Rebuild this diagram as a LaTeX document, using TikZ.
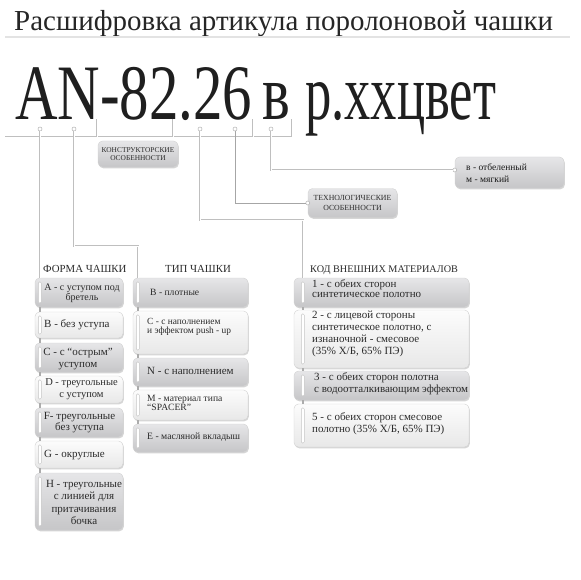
\documentclass[tikz,border=0pt]{standalone}
\usepackage{fontspec}
\setmainfont{Liberation Serif}
\usepackage{graphicx}
\usetikzlibrary{shadows,calc}
\definecolor{txt}{HTML}{2B2B2B}
\definecolor{darkA}{HTML}{E6E6E8}
\definecolor{darkB}{HTML}{C6C6C8}
\definecolor{liteA}{HTML}{FCFCFC}
\definecolor{liteB}{HTML}{E8E8E8}
\tikzset{
  box/.style={rectangle, rounded corners=4.5pt, draw=gray!35, line width=0.4pt, inner sep=0pt,
    drop shadow={shadow xshift=0.8pt, shadow yshift=-1.3pt, opacity=0.45, fill=gray!70}},
  darkbox/.style={box, top color=darkA, bottom color=darkB},
  litebox/.style={box, top color=liteA, bottom color=liteB},
  lbl/.style={inner sep=0pt, text=txt},
  fsz/.style 2 args={font=\fontsize{#1}{#2}\selectfont},
  conn/.style={draw=gray!50, double=white, double distance=0.9pt, line width=0.55pt},
  connd/.style={draw=gray!70, line width=0.8pt},
  ring/.style={circle, draw=gray!60, fill=white, line width=0.5pt, inner sep=0pt, minimum size=4pt},
  capsule/.style={draw=gray!45, fill=white, line width=0.4pt, rounded corners=1.4pt},
  link/.style={draw=gray!65, line width=1.6pt},
}
\begin{document}
\begin{tikzpicture}[x=1pt,y=-1pt]
\useasboundingbox (0,0) rectangle (580,580);
\fill[white] (0,0) rectangle (580,580);

% title
\node[lbl, anchor=base west, text=black!85] (title) at (14,31)
  {\resizebox{539pt}{!}{\fontsize{30}{30}\selectfont Расшифровка артикула поролоновой чашки}};
\draw[gray!22, line width=2pt] (5,37.5) -- (570,37.5);

% big code
\node[lbl, anchor=base west, text=black!88] (code) at (15,120)
  {\fontsize{78.5}{78.5}\selectfont\scalebox{0.75}[1]{AN-82.26}};
\node[lbl, anchor=base west, text=black!88] (codeb) at (262,120)
  {\fontsize{78.5}{78.5}\selectfont\scalebox{0.75}[1]{в}};
\node[lbl, anchor=base west, text=black!88] (codec) at (305,120)
  {\fontsize{78.5}{78.5}\selectfont\scalebox{0.67}[1]{р.ххцвет}};

% brackets under the code
\draw[conn] (5,137) -- (292,137);
\foreach \x in {97,173,253,292} \draw[conn] (\x,137) -- (\x,119);

% rings
\node[ring] (c1) at (40,129) {};
\node[ring] (c2) at (74,129) {};
\node[ring] (c3) at (200,129) {};
\node[ring] (c4) at (235,129) {};
\node[ring] (c5) at (271,129) {};

% upper boxes
\node[darkbox, minimum width=80pt, minimum height=26pt] (konstr) at (138,154) {};
\node[lbl, fsz={7.4}{8}, align=center] (konstrt) at (konstr.center) {КОНСТРУКТОРСКИЕ\\ОСОБЕННОСТИ};
\node[darkbox, minimum width=89pt, minimum height=29pt] (tech) at (352.5,203) {};
\node[lbl, fsz={7.8}{9.5}, align=center] (techt) at (tech.center) {ТЕХНОЛОГИЧЕСКИЕ\\ОСОБЕННОСТИ};
\node[darkbox, minimum width=109pt, minimum height=31pt] (soft) at (509.5,172.5) {};
\node[lbl, fsz={9.5}{12}, align=left, anchor=west, text=black!90] (softt) at (466,173) {в - отбеленный\\м - мягкий};

% headers
\node[lbl, fsz={10.8}{11}, anchor=west] (hform) at (43,269) {ФОРМА ЧАШКИ};
\node[lbl, fsz={10.8}{11}, anchor=west] (htype) at (165,269) {ТИП ЧАШКИ};
\node[lbl, fsz={10.2}{11}, anchor=west] (hcode) at (310,270) {КОД ВНЕШНИХ МАТЕРИАЛОВ};

% form column
\node[darkbox, minimum width=88pt, minimum height=29pt] (fA) at (79,292.5) {};
\node[litebox, minimum width=88pt, minimum height=26pt] (fB) at (79,325) {};
\node[darkbox, minimum width=88pt, minimum height=29pt] (fC) at (79,357.5) {};
\node[litebox, minimum width=88pt, minimum height=27pt] (fD) at (79,389.5) {};
\node[darkbox, minimum width=88pt, minimum height=29pt] (fF) at (79,422.5) {};
\node[litebox, minimum width=88pt, minimum height=27pt] (fG) at (79,454.5) {};
\node[darkbox, minimum width=88pt, minimum height=57pt] (fH) at (79,501.5) {};

% type column
\node[darkbox, minimum width=115pt, minimum height=29pt] (tB) at (190.5,292.5) {};
\node[litebox, minimum width=115pt, minimum height=43pt] (tC) at (190.5,332.5) {};
\node[darkbox, minimum width=115pt, minimum height=28pt] (tN) at (190.5,372) {};
\node[litebox, minimum width=115pt, minimum height=30pt] (tM) at (190.5,405) {};
\node[darkbox, minimum width=115pt, minimum height=28pt] (tE) at (190.5,438) {};

% code column
\node[darkbox, minimum width=175pt, minimum height=29pt] (k1) at (381.5,292.5) {};
\node[litebox, minimum width=175pt, minimum height=58pt] (k2) at (381.5,339) {};
\node[darkbox, minimum width=175pt, minimum height=29pt] (k3) at (381.5,385.5) {};
\node[litebox, minimum width=175pt, minimum height=43pt] (k5) at (381.5,425.5) {};

% capsules
\foreach \b/\o in {fA/5,fB/5,fC/5,fD/5,fF/5,fG/5,fH/5,tB/5,tC/5,tN/5,tM/5,tE/5,k1/9,k2/9,k3/9,k5/9}
  \draw[capsule] ($(\b.north west)+(\o-1.5,4)$) rectangle ($(\b.south west)+(\o+1.5,-4)$);
% links
\foreach \a/\b/\o in {fA/fB/5,fB/fC/5,fC/fD/5,fD/fF/5,fF/fG/5,fG/fH/5,tB/tC/5,tC/tN/5,tN/tM/5,tM/tE/5,k1/k2/9,k2/k3/9,k3/k5/9}
  \draw[link] ($(\a.south west)+(\o,0)$) -- ($(\b.north west)+(\o,0)$);

% texts form
\node[lbl, fsz={10}{10}, align=center] (fAt) at (82,293) {A - с уступом под\\бретель};
\node[lbl, fsz={11}{12}, anchor=west] (fBt) at (44,325) {B - без уступа};
\node[lbl, fsz={11}{12}, align=center] (fCt) at (78,359) {C - с “острым”\\уступом};
\node[lbl, fsz={10.5}{12.5}, align=center] (fDt) at (81.5,389) {D - треугольные\\с уступом};
\node[lbl, fsz={11}{11.5}, align=center] (fFt) at (79.5,422.5) {F- треугольные\\без уступа};
\node[lbl, fsz={11}{12}, anchor=west] (fGt) at (44,455) {G - округлые};
\node[lbl, fsz={11}{12.3}, align=center] (fHt) at (84,502.5) {H - треугольные\\с линией для\\притачивания\\бочка};

% texts type
\node[lbl, fsz={9.6}{8}, anchor=west] (tBt) at (150,292) {B - плотные};
\node[lbl, fsz={9.4}{9}, anchor=west, align=left] (tCt) at (147,327) {C - с наполнением\\и эффектом push - up};
\node[lbl, fsz={11}{12}, anchor=west] (tNt) at (147,371) {N - с наполнением};
\node[lbl, fsz={9.6}{9}, anchor=west, align=left] (tMt) at (147,403) {M - материал типа\\“SPACER”};
\node[lbl, fsz={9.7}{10}, anchor=west] (tEt) at (147,437) {E - масляной вкладыш};

% texts code
\node[lbl, fsz={11}{10}, anchor=west, align=left] (k1t) at (312,289) {1 - с обеих сторон\\синтетическое полотно};
\node[lbl, fsz={11}{12}, anchor=west, align=left] (k2t) at (312,334) {2 - с лицевой стороны\\синтетическое полотно, с\\изнаночной - смесовое\\(35\% Х/Б, 65\% ПЭ)};
\node[lbl, fsz={11}{12}, anchor=west, align=left] (k3t) at (314,384) {3 - с обеих сторон полотна\\с водоотталкивающим эффектом};
\node[lbl, fsz={11}{12}, anchor=west, align=left] (k5t) at (312,424) {5 - с обеих сторон смесовое\\полотно (35\% Х/Б, 65\% ПЭ)};

% connectors
\coordinate (j2) at (138,246);
\coordinate (j3) at (303,220);
\draw[conn] (c1) -- (c1 |- fA.north);
\draw[conn] (c2) |- (j2) -- (j2 |- tB.north);
\draw[conn] (c3) |- (j3) -- (j3 |- k1.north);
\node[ring] (r4) at (tech.west) {};
\node[ring] (r5) at ($(soft.west)+(0,-2.5)$) {};
\draw[connd] (c4) |- (r4);
\draw[conn] (c5) |- (r5);
\end{tikzpicture}
\end{document}
